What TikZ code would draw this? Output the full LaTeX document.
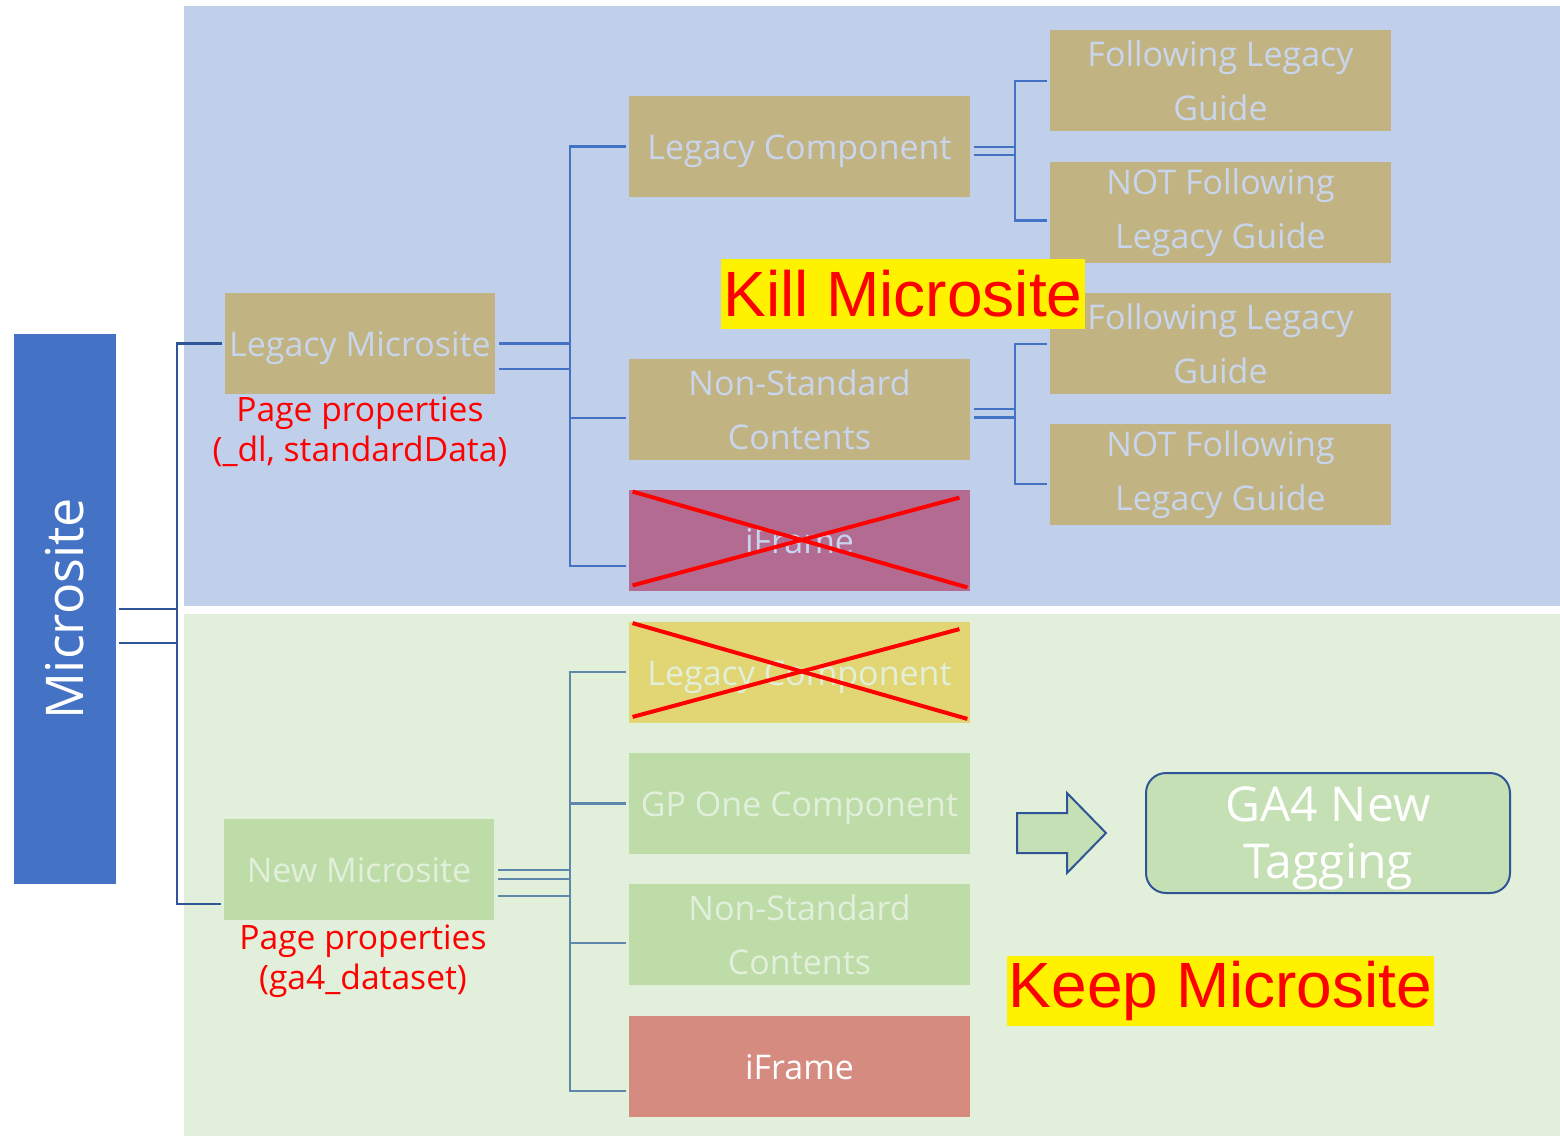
\documentclass[tikz,border=0pt]{standalone}
\usepackage{fontspec}
\setmainfont{Open Sans}
\newfontfamily\bannerfont{Liberation Sans}
\usetikzlibrary{calc}

\definecolor{killbg}{HTML}{C1D0EA}
\definecolor{keepbg}{HTML}{E2EFDA}
\definecolor{tanfill}{HTML}{C2B482}
\definecolor{leaffill}{HTML}{BDDCA7}
\definecolor{oldframe}{HTML}{B46B92}
\definecolor{oldlegacy}{HTML}{E2D574}
\definecolor{newframe}{HTML}{D58B80}
\definecolor{ga4fill}{HTML}{C5E0B4}
\definecolor{rootblue}{HTML}{4472C4}
\definecolor{darkblue}{HTML}{2F5597}
\definecolor{steelline}{HTML}{5E87AB}
\definecolor{paletext}{HTML}{C8D5EC}

\newcommand{\bxfont}{\fontsize{17}{27}\selectfont}

\tikzset{
  box/.style={minimum width=170.5pt, minimum height=50.5pt, inner sep=0pt,
    align=center, font=\bxfont},
  oneline/.style={text height=16pt, text depth=3pt},
  tanbox/.style={box, fill=tanfill, text=paletext},
  greenbox/.style={box, fill=leaffill, text=keepbg},
  root/.style={fill=rootblue, text=white, minimum width=51pt, minimum height=275pt,
    inner sep=0pt, font=\fontsize{26}{30}\selectfont},
  note/.style={text=red, align=center, inner sep=0pt, font=\fontsize{16.8}{20}\selectfont},
  banner/.style={fill=yellow, text=red, inner xsep=1pt, inner ysep=0pt, minimum height=35pt,
    font=\bannerfont\fontsize{32}{36}\selectfont},
  ga4/.style={fill=ga4fill, draw=darkblue, line width=1pt, rounded corners=10pt,
    minimum width=182pt, minimum height=60pt, inner sep=0pt, align=center, text=white,
    font=\fontsize{24}{28.5}\selectfont},
  rootline/.style={darkblue, line width=1.2pt},
  conn/.style={rootblue, line width=1.2pt},
  steel/.style={steelline, line width=1.2pt},
  cross/.style={red, line width=2pt}
}

\begin{document}
\begin{tikzpicture}[x=0.5pt,y=-0.5pt]
\useasboundingbox (0,0) rectangle (1560,1136);

% Backgrounds
\fill[killbg] (184,6) rectangle (1560,606);
\fill[keepbg] (184,614) rectangle (1560,1136);

% Root
\node[root] (ms) at (65,609) {\rotatebox{90}{Microsite}};

% Legacy branch
\node[tanbox, oneline, minimum width=135pt] (lm) at (360,343.5) {Legacy Microsite};
\node[note] (lmp) at (360,432) {Page properties\\(\_dl, standardData)};
\node[tanbox, oneline] (lc1) at (799.5,146.5) {Legacy Component};
\node[tanbox] (ns1) at (799.5,409.5) {Non-Standard\\Contents};
\node[box, oneline, fill=oldframe, text=paletext] (if1) at (799.5,540.5) {iFrame};
\node[tanbox] (fg1) at (1220.5,80.5) {Following Legacy\\Guide};
\node[tanbox] (nf1) at (1220.5,212.5) {NOT Following\\Legacy Guide};
\node[tanbox] (fg2) at (1220.5,343.5) {Following Legacy\\Guide};
\node[tanbox] (nf2) at (1220.5,474.5) {NOT Following\\Legacy Guide};
\node[banner] (kill) at (903,293.5) {Kill Microsite};

% New branch
\node[greenbox, oneline, minimum width=135pt] (nm) at (359,869.5) {New Microsite};
\node[note] (nmp) at (363,961.5) {Page properties\\(ga4\_dataset)};
\node[box, oneline, fill=oldlegacy, text=keepbg] (lc2) at (799.5,672) {Legacy Component};
\node[greenbox, oneline] (gp) at (799.5,803.5) {GP One Component};
\node[greenbox] (ns2) at (799.5,934.5) {Non-Standard\\Contents};
\node[box, oneline, fill=newframe, text=white] (if2) at (799.5,1066) {iFrame};
\node[ga4] (ga4) at (1328,833) {\rule{0pt}{22.5pt}GA4 New\\Tagging};
\node[banner] (keep) at (1220.5,991) {Keep Microsite};

% Root connectors
\coordinate (busR) at (177,0);
\foreach \dy in {0,34}
  \draw[rootline] ($(ms.east)+(3,\dy)$) coordinate (r) -- (busR |- r);
\draw[rootline] ($(lm.west)+(-3,0)$) -| ($(busR |- nm.west)+(0,34.5)$) -- ($(nm.west)+(-3,34.5)$);

% Legacy connectors
\coordinate (busL) at (570,0);
\foreach \dy in {0,25.5}
  \draw[conn] ($(lm.east)+(4,\dy)$) coordinate (l) -- (busL |- l);
\draw[conn] ($(lc1.west)+(-3,0)$) -| ($(busL |- if1.west)+(0,25.5)$) -- ($(if1.west)+(-3,25.5)$);
\draw[conn] ($(ns1.west)+(-3,8.5)$) coordinate (n1) -- (busL |- n1);

\coordinate (busA) at (1015,0);
\foreach \dy in {0.5,8.5}
  \draw[conn] ($(lc1.east)+(4,\dy)$) coordinate (a) -- (busA |- a);
\draw[conn] ($(fg1.west)+(-3,0.5)$) -| ($(busA |- nf1.west)+(0,8)$) -- ($(nf1.west)+(-3,8)$);
\foreach \dy in {-0.5,8}
  \draw[conn] ($(ns1.east)+(4,\dy)$) coordinate (b) -- (busA |- b);
\draw[conn] ($(fg2.west)+(-3,0.5)$) -| ($(busA |- nf2.west)+(0,9.5)$) -- ($(nf2.west)+(-3,9.5)$);

% New connectors
\foreach \dy in {0.5,9.5,26.5}
  \draw[steel] ($(nm.east)+(4,\dy)$) coordinate (m) -- (busL |- m);
\draw[steel] ($(lc2.west)+(-3,0)$) -| ($(busL |- if2.west)+(0,25)$) -- ($(if2.west)+(-3,25)$);
\draw[steel] ($(gp.west)+(-3,0)$) coordinate (g) -- (busL |- g);
\draw[steel] ($(ns2.west)+(-3,8.5)$) coordinate (s) -- (busL |- s);

% Crossed out
\foreach \b in {if1,lc2} {
  \draw[cross] ($(\b.north west)+(4,2)$) -- ($(\b.south east)+(-3,-4)$);
  \draw[cross] ($(\b.south west)+(4,-6)$) -- ($(\b.north east)+(-11,8)$);
}

% Arrow
\draw[fill=ga4fill, draw=darkblue, line width=1pt] (1017,813) -- (1067,813) -- (1067,793)
  -- (1106,833) -- (1067,873) -- (1067,853) -- (1017,853) -- cycle;
\end{tikzpicture}
\end{document}
